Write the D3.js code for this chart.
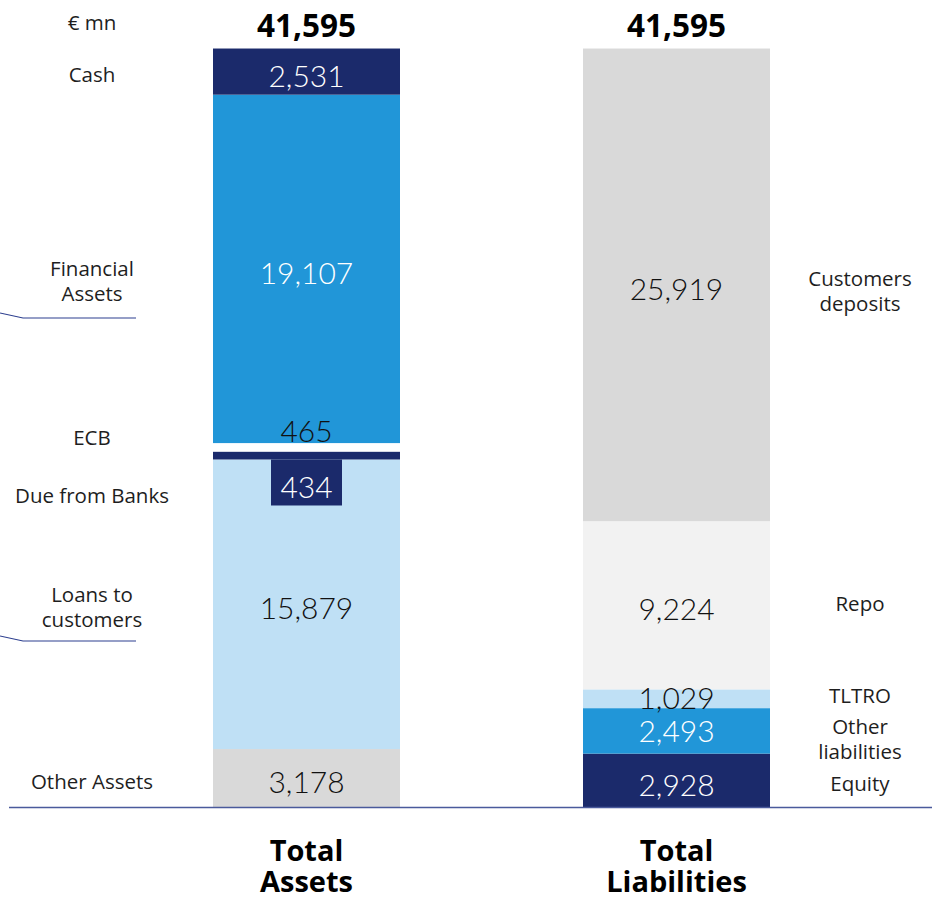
<!DOCTYPE html>
<html>
<head>
<meta charset="utf-8">
<script src="https://cdn.jsdelivr.net/npm/d3@7"></script>
<style>
  html, body { margin: 0; padding: 0; background: #fff; }
  svg { display: block; font-family: "Open Sans", "Lato", sans-serif; }
  .val { font-family: "Lato", "Open Sans", sans-serif; }
</style>
</head>
<body>
<svg id="chart" width="932" height="897"></svg>
<script>
// Balance sheet, € mn — stacked from the bottom up
const columns = ["Total Assets", "Total Liabilities"];
const columnTotals = [41595, 41595];

const assetCategories = ["Other Assets", "Loans to customers", "Due from Banks", "ECB", "Financial Assets", "Cash"];
const assetValues = [3178, 15879, 434, 465, 19107, 2531];

const liabilityCategories = ["Equity", "Other liabilities", "TLTRO", "Repo", "Customers deposits"];
const liabilityValues = [2928, 2493, 1029, 9224, 25919];

const unitLabel = "€ mn";

// Segment styling
const NAVY = "#1b2a6b", BLUE = "#2196d8", LIGHT = "#bfe0f5", GREY = "#d9d9d9", PALE = "#f2f2f2";
const fills = {
  "Other Assets": GREY, "Loans to customers": LIGHT, "Due from Banks": NAVY,
  "ECB": "#ffffff", "Financial Assets": BLUE, "Cash": NAVY,
  "Equity": NAVY, "Other liabilities": BLUE, "TLTRO": LIGHT, "Repo": PALE,
  "Customers deposits": GREY
};
const valueColor = {
  "Cash": "#fff", "Financial Assets": "#fff", "Due from Banks": "#fff",
  "Other liabilities": "#fff", "Equity": "#fff"
};
// Label nudges (px) relative to segment centres
const valueShift = { "ECB": -20, "Due from Banks": 27, "TLTRO": -5, "Other liabilities": -4, "Equity": 1 };
const nameShift = {
  "Cash": 2, "Financial Assets": 12, "ECB": -10, "Due from Banks": 39,
  "Loans to customers": 2, "Other Assets": 3,
  "Customers deposits": 6, "Repo": -2, "TLTRO": -4, "Other liabilities": 8, "Equity": 3
};
const nameLines = {
  "Financial Assets": ["Financial", "Assets"],
  "Loans to customers": ["Loans to", "customers"],
  "Customers deposits": ["Customers", "deposits"],
  "Other liabilities": ["Other", "liabilities"]
};

const svg = d3.select("#chart");
const W = 932;

const x = d3.scaleBand().domain(columns).range([28, 955]).paddingInner(0.4946).paddingOuter(0.5);
const y = d3.scaleLinear().domain([0, 41595]).range([807, 48.5]);
const fmt = d3.format(",");

function stackUp(cats, vals) {
  let acc = 0;
  return cats.map((c, i) => {
    const s = { name: c, value: vals[i], y0: acc, y1: acc + vals[i] };
    acc += vals[i];
    return s;
  });
}

const sides = [
  { col: columns[0], segs: stackUp(assetCategories, assetValues), nameX: 92 },
  { col: columns[1], segs: stackUp(liabilityCategories, liabilityValues), nameX: 860 }
];

const FONT_NAME = 20.5, FONT_VAL = 30;

sides.forEach(side => {
  const g = svg.append("g");
  const bx = x(side.col), bw = x.bandwidth(), cx = bx + bw / 2;

  g.selectAll("rect.seg").data(side.segs).enter().append("rect")
    .attr("class", "seg")
    .attr("x", bx).attr("width", bw)
    .attr("y", d => y(d.y1))
    .attr("height", d => y(d.y0) - y(d.y1))
    .attr("fill", d => fills[d.name]);

  side.segs.forEach(d => {
    const mid = (y(d.y0) + y(d.y1)) / 2;
    const vy = mid + 3 + (valueShift[d.name] || 0);
    if (d.name === "Due from Banks") {
      g.append("rect").attr("x", cx - 35.5).attr("width", 71)
        .attr("y", y(d.y0)).attr("height", 46).attr("fill", NAVY);
    }
    g.append("text").attr("class", "val")
      .attr("x", cx).attr("y", vy)
      .attr("text-anchor", "middle").attr("dominant-baseline", "central")
      .attr("font-size", FONT_VAL).attr("font-weight", 300)
      .attr("fill", valueColor[d.name] || "#111")
      .text(fmt(d.value));

    const lines = nameLines[d.name] || [d.name];
    const ny = mid + (nameShift[d.name] || 0);
    const t = g.append("text")
      .attr("text-anchor", "middle").attr("font-size", FONT_NAME).attr("fill", "#1e1e1e");
    lines.forEach((ln, i) => {
      t.append("tspan").attr("x", side.nameX)
        .attr("y", ny + (i - (lines.length - 1) / 2) * 25)
        .attr("dominant-baseline", "central").text(ln);
    });
  });

  // Column total above the bar
  svg.append("text").attr("x", cx).attr("y", 24)
    .attr("text-anchor", "middle").attr("dominant-baseline", "central")
    .attr("font-size", 31.5).attr("font-weight", 700).attr("fill", "#000")
    .text(fmt(columnTotals[columns.indexOf(side.col)]));

  // Column title below the baseline
  const parts = side.col.split(" ");
  parts.forEach((p, i) => {
    svg.append("text").attr("text-anchor", "middle")
      .attr("x", cx).attr("y", 861 + i * 31)
      .attr("font-size", 29).attr("font-weight", 700).attr("fill", "#000")
      .text(p);
  });
});

// Unit label
svg.append("text").attr("x", 92).attr("y", 22)
  .attr("text-anchor", "middle").attr("dominant-baseline", "central")
  .attr("font-size", FONT_NAME).attr("fill", "#1e1e1e").text(unitLabel);

// Baseline
svg.append("line").attr("x1", 9).attr("x2", W).attr("y1", y(0) + 0.5).attr("y2", y(0) + 0.5)
  .attr("stroke", "#4a5a9c").attr("stroke-width", 1.5);

// Leader lines under the two large asset labels
[["Financial Assets", 318], ["Loans to customers", 641]].forEach(([name, ly]) => {
  svg.append("polyline")
    .attr("points", `0,${ly - 5} 23,${ly} 136,${ly}`)
    .attr("fill", "none").attr("stroke", "#2d3f8f").attr("stroke-width", 1.2);
});
</script>
</body>
</html>
